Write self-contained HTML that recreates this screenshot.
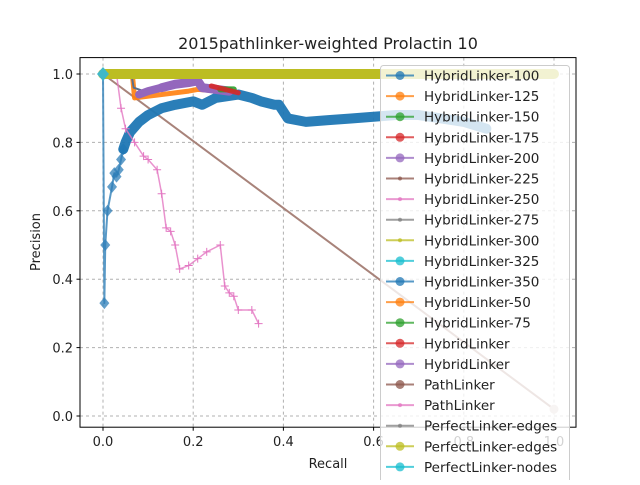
<!DOCTYPE html>
<html><head><meta charset="utf-8"><style>
body{margin:0;background:#fff;}
svg text{font-family:"DejaVu Sans","Liberation Sans",sans-serif;}
</style></head><body>
<svg id="chart" width="640" height="480" viewBox="0 0 640 480" xmlns="http://www.w3.org/2000/svg">
<rect width="640" height="480" fill="#fff"/>
<text x="328" y="49" font-size="16" text-anchor="middle" fill="#222">2015pathlinker-weighted Prolactin 10</text>
<g id="grid"></g>
<g id="series"></g>
<rect x="80" y="57.6" width="496" height="369.6" fill="none" stroke="#000" stroke-width="1"/>
<g id="ticks"></g>
<text x="328" y="468" font-size="13" text-anchor="middle" fill="#222">Recall</text>
<text transform="translate(40,242) rotate(-90)" font-size="13" text-anchor="middle" fill="#222">Precision</text>
<g id="legend"></g>
</svg>
<script>
const xTicks=[0,0.2,0.4,0.6,0.8,1.0];
const xTickLabels=["0.0","0.2","0.4","0.6","0.8","1.0"];
const yTicks=[0,0.2,0.4,0.6,0.8,1.0];
const yTickLabels=["0.0","0.2","0.4","0.6","0.8","1.0"];
const nodesRecall=[0,0.003,0.005,0.01,0.02,0.025,0.03,0.035,0.04,0.045];
const nodesPrecision=[1,0.33,0.5,0.6,0.67,0.71,0.7,0.72,0.75,0.78];
const blueRecall=[0.045,0.05,0.06,0.08,0.1,0.13,0.16,0.2,0.22,0.25,0.3,0.33,0.35,0.38,0.39,0.41,0.45,0.5,0.55,0.6,0.65,0.7,0.75,0.8,0.85];
const bluePrecision=[0.78,0.8,0.83,0.86,0.88,0.9,0.91,0.92,0.91,0.93,0.94,0.93,0.92,0.91,0.91,0.87,0.86,0.865,0.87,0.875,0.88,0.88,0.87,0.86,0.84];
const pathRecall=[0,1];
const pathPrecision=[1,0.02];
const pinkRecall=[0.03,0.04,0.05,0.07,0.09,0.1,0.12,0.13,0.14,0.15,0.16,0.17,0.19,0.21,0.23,0.26,0.27,0.28,0.29,0.3,0.33,0.345];
const pinkPrecision=[1,0.9,0.84,0.8,0.76,0.75,0.72,0.65,0.55,0.54,0.5,0.43,0.44,0.46,0.48,0.5,0.38,0.36,0.35,0.31,0.31,0.27];
const oliveRecall=[0,1];
const olivePrecision=[1,1];
const purpleRecall=[0.13,0.16,0.19,0.21,0.22,0.25,0.28];
const purplePrecision=[0.96,0.97,0.975,0.98,0.96,0.955,0.95];
const purpleLowRecall=[0.08,0.1,0.13];
const purpleLowPrecision=[0.94,0.95,0.96];
const orangeRecall=[0.065,0.07,0.19,0.21,0.26];
const orangePrecision=[1,0.93,0.95,0.955,0.95];
const greenRecall=[0.26,0.29];
const greenPrecision=[0.955,0.955];
const redRecall=[0.24,0.3];
const redPrecision=[0.965,0.945];
const steelRecall=[0.063,0.068,0.09];
const steelPrecision=[1,0.96,0.95];

const NS="http://www.w3.org/2000/svg";
const X=v=>103+v*451;
const Y=v=>74+(1-v)*342;
function mk(tag,parent){const e=document.createElementNS(NS,tag);parent.appendChild(e);return e;}
const grid=document.getElementById('grid'),ticks=document.getElementById('ticks'),ser=document.getElementById('series'),leg=document.getElementById('legend');
xTicks.forEach((t,i)=>{
 const l=mk('line',grid);l.setAttribute('x1',X(t));l.setAttribute('x2',X(t));l.setAttribute('y1',57.6);l.setAttribute('y2',427.2);l.setAttribute('stroke','#b0b0b0');l.setAttribute('stroke-dasharray','3,3');
 
 
 const k=mk('line',ticks);k.setAttribute('x1',X(t));k.setAttribute('x2',X(t));k.setAttribute('y1',427.2);k.setAttribute('y2',430.7);k.setAttribute('stroke','#000');
 
 
 const tx=mk('text',ticks);tx.setAttribute('x',X(t));tx.setAttribute('y',446);tx.setAttribute('font-size','13');tx.setAttribute('text-anchor','middle');tx.setAttribute('fill','#222');tx.textContent=xTickLabels[i];
 
 
});
yTicks.forEach((t,i)=>{
 const l=mk('line',grid);l.setAttribute('x1',80);l.setAttribute('x2',576);l.setAttribute('y1',Y(t));l.setAttribute('y2',Y(t));l.setAttribute('stroke','#b0b0b0');l.setAttribute('stroke-dasharray','3,3');
 
 
 const k=mk('line',ticks);k.setAttribute('x1',76.5);k.setAttribute('x2',80);k.setAttribute('y1',Y(t));k.setAttribute('y2',Y(t));k.setAttribute('stroke','#000');
 
 
 const tx=mk('text',ticks);tx.setAttribute('x',73);tx.setAttribute('y',Y(t)+5);tx.setAttribute('font-size','13');tx.setAttribute('text-anchor','end');tx.setAttribute('fill','#222');tx.textContent=yTickLabels[i];
 
 
});
function series(name,xs,ys,color,w,op,marker){
 const g=mk('g',ser);
 
 
 const p=mk('polyline',g);
 p.setAttribute('points',xs.map((x,i)=>X(x)+','+Y(ys[i])).join(' '));
 p.setAttribute('fill','none');p.setAttribute('stroke',color);p.setAttribute('stroke-width',w);p.setAttribute('stroke-opacity',op);p.setAttribute('stroke-linejoin','round');p.setAttribute('stroke-linecap','round');
 if(marker){xs.forEach((x,i)=>{const m=mk('path',g);const cx=X(x),cy=Y(ys[i]);
  if(marker==='d'){m.setAttribute('d',`M${cx},${cy-6}L${cx+5},${cy}L${cx},${cy+6}L${cx-5},${cy}Z`);m.setAttribute('fill',color);m.setAttribute('fill-opacity',0.75);}
  else{m.setAttribute('d',`M${cx-4},${cy}H${cx+4}M${cx},${cy-4}V${cy+4}`);m.setAttribute('stroke',color);m.setAttribute('fill','none');}
  
  
 });}
}
series('pathlinker-line',pathRecall,pathPrecision,'#a8837a',2,1,null);
series('perfectlinker-nodes-curve',nodesRecall,nodesPrecision,'#2f7fb8',2,0.8,'d');
series('hybrid-350-curve',blueRecall,bluePrecision,'#1f77b4',10,0.95,null);
series('pathlinker-pink-curve',pinkRecall,pinkPrecision,'#e377c2',1.5,0.8,'p');
series('hybrid-50-curve',orangeRecall,orangePrecision,'#ff7f0e',5,0.9,null);
series('hybrid-350-top',steelRecall,steelPrecision,'#5a6f8a',2,1,null);
series('hybridlinker-purple-low',purpleLowRecall,purpleLowPrecision,'#9467bd',8,1,null);
series('hybridlinker-purple-curve',purpleRecall,purplePrecision,'#9467bd',9,1,null);
series('hybrid-75-curve',greenRecall,greenPrecision,'#2ca02c',6,0.9,null);
series('hybridlinker-red-curve',redRecall,redPrecision,'#d62728',5,0.9,null);
series('perfectlinker-edges-line',oliveRecall,olivePrecision,'#bcbd22',10,1,null);
(function(){const m=mk('path',ser);const cx=X(0),cy=Y(1);m.setAttribute('d',`M${cx},${cy-7}L${cx+6},${cy}L${cx},${cy+7}L${cx-6},${cy}Z`);m.setAttribute('fill','#3fb8c9');


const c=mk('circle',ser);c.setAttribute('cx',X(1));c.setAttribute('cy',Y(0.02));c.setAttribute('r',4.5);c.setAttribute('fill','#d8c8c4');

})();
const legNames=["HybridLinker-100","HybridLinker-125","HybridLinker-150","HybridLinker-175","HybridLinker-200","HybridLinker-225","HybridLinker-250","HybridLinker-275","HybridLinker-300","HybridLinker-325","HybridLinker-350","HybridLinker-50","HybridLinker-75","HybridLinker","HybridLinker","PathLinker","PathLinker","PerfectLinker-edges","PerfectLinker-edges","PerfectLinker-nodes"];
const legColors=["#1f77b4","#ff7f0e","#2ca02c","#d62728","#9467bd","#8c564b","#e377c2","#7f7f7f","#bcbd22","#17becf","#1f77b4","#ff7f0e","#2ca02c","#d62728","#9467bd","#8c564b","#e377c2","#7f7f7f","#bcbd22","#17becf"];
const lb=mk('rect',leg);lb.setAttribute('x',380.5);lb.setAttribute('y',65.5);lb.setAttribute('width',189);lb.setAttribute('height',430);lb.setAttribute('rx',3);lb.setAttribute('fill','#fff');lb.setAttribute('fill-opacity',0.8);lb.setAttribute('stroke','#ccc');


legNames.forEach((n,i)=>{const y=75.5+i*20.6;const g=mk('g',leg);
 
 
 const l=mk('line',g);l.setAttribute('x1',386);l.setAttribute('x2',414);l.setAttribute('y1',y);l.setAttribute('y2',y);l.setAttribute('stroke',legColors[i]);l.setAttribute('stroke-width',2);l.setAttribute('stroke-opacity',0.75);
 const c=mk('circle',g);c.setAttribute('cx',400);c.setAttribute('cy',y);c.setAttribute('r',i>=5&&i<=8||i==16||i==17?2:4.5);c.setAttribute('fill',legColors[i]);c.setAttribute('fill-opacity',0.75);
 const t=mk('text',g);t.setAttribute('x',424);t.setAttribute('y',y+5);t.setAttribute('font-size','13.5');t.setAttribute('fill','#222');t.textContent=n;});
</script>
</body></html>
